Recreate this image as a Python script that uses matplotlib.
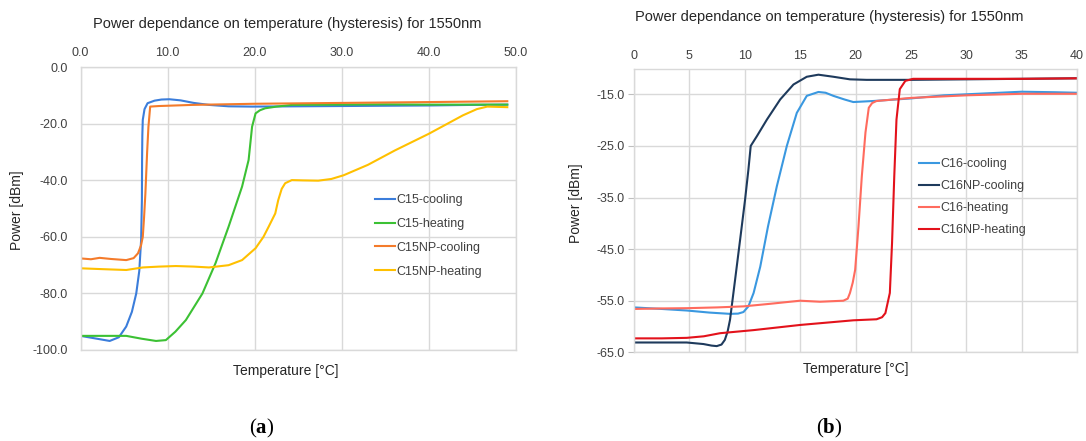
import matplotlib
matplotlib.use("Agg")
import matplotlib.pyplot as plt
from matplotlib.ticker import FixedLocator

plt.rcParams["font.family"] = ["Liberation Sans", "DejaVu Sans"]
plt.rcParams["mathtext.fontset"] = "custom"
plt.rcParams["mathtext.bf"] = "Liberation Serif:bold"
plt.rcParams["mathtext.rm"] = "Liberation Serif"

W, H = 1086, 441
TITLE = "Power dependance on temperature (hysteresis) for 1550nm"

# ---- panel (a): C15 samples, 0-50 degC ----
c15_cool_t = [0, 1.5, 3.35, 4.4, 5.25, 5.9, 6.4, 6.75, 6.96, 7.05, 7.07, 7.1, 7.15, 7.35, 7.7,
              8.5, 9.3, 10.2, 11.5, 13.0, 14.75, 17.0, 19.7, 25.0, 30.0, 35.0, 40.0, 45.0, 49.0]
c15_cool_p = [-95.0, -95.8, -96.8, -95.5, -91.7, -86.5, -80.0, -72.0, -61.0, -47.0, -32.8, -24.0,
              -18.6, -14.8, -12.7, -11.8, -11.4, -11.3, -11.7, -12.6, -13.3, -13.8, -13.9, -13.8,
              -13.7, -13.6, -13.5, -13.3, -13.2]

c15_heat_t = [0, 2.5, 5.25, 7.0, 8.67, 9.8, 10.9, 12.1, 14.0, 15.5, 17.0, 18.55, 19.3, 19.7,
              20.1, 20.6, 21.2, 22.5, 24.3, 30.0, 35.0, 40.0, 45.0, 49.0]
c15_heat_p = [-95.0, -95.0, -95.0, -96.0, -96.8, -96.5, -93.5, -89.4, -80.0, -69.3, -56.4,
              -42.2, -32.8, -21.0, -16.3, -15.2, -14.5, -13.9, -13.3, -13.2, -13.1, -13.2,
              -13.2, -13.2]

c15np_cool_t = [0, 1.2, 2.2, 3.5, 5.25, 6.1, 6.6, 6.95, 7.15, 7.3, 7.45, 7.65, 7.8, 8.0, 9.0,
                12.85, 20.0, 30.0, 40.0, 49.0]
c15np_cool_p = [-67.6, -67.9, -67.4, -67.8, -68.2, -67.5, -65.8, -63.0, -60.0, -53.0, -44.6,
                -30.0, -21.0, -13.9, -13.7, -13.3, -12.9, -12.6, -12.3, -12.0]

c15np_heat_t = [0, 2.5, 5.25, 7.15, 9.0, 10.95, 13.0, 14.75, 17.0, 18.55, 20.1, 21.0, 21.6,
                22.36, 22.7, 23.1, 23.5, 24.26, 25.5, 27.3, 28.8, 30.2, 33.0, 36.1, 40.0, 43.9,
                45.5, 46.7, 49.0]
c15np_heat_p = [-71.1, -71.4, -71.7, -70.8, -70.5, -70.3, -70.5, -70.8, -70.0, -68.2, -64.0,
                -60.0, -56.4, -51.7, -47.0, -43.0, -41.0, -39.9, -40.0, -40.1, -39.5, -38.2,
                -34.5, -29.4, -23.5, -17.0, -14.8, -13.9, -14.1]

# ---- panel (b): C16 samples, 0-40 degC ----
c16_cool_t = [0, 2.5, 4.76, 6.8, 8.67, 9.4, 9.88, 10.33, 10.8, 11.4, 12.1, 12.9, 13.8, 14.7,
              15.6, 16.65, 17.3, 18.0, 19.0, 19.8, 21.6, 25.0, 28.0, 32.0, 35.0, 38.0, 40.0]
c16_cool_p = [-56.3, -56.6, -56.9, -57.3, -57.55, -57.5, -57.2, -56.1, -53.5, -48.4, -40.6,
              -32.8, -25.0, -18.6, -15.3, -14.55, -14.7, -15.3, -16.0, -16.5, -16.3, -15.8,
              -15.2, -14.8, -14.5, -14.6, -14.7]

c16np_cool_t = [0, 2.5, 4.76, 6.27, 7.0, 7.47, 7.9, 8.2, 8.45, 8.67, 9.13, 9.58, 10.03, 10.33,
                10.54, 11.1, 12.0, 13.2, 14.4, 15.6, 16.65, 18.0, 19.5, 21.0, 25.0, 30.0, 35.0,
                40.0]
c16np_cool_p = [-63.1, -63.1, -63.1, -63.4, -63.7, -63.8, -63.5, -62.6, -61.0, -58.7, -50.9,
                -43.2, -35.4, -29.6, -25.0, -23.1, -19.9, -16.0, -13.1, -11.6, -11.2, -11.6,
                -12.1, -12.2, -12.2, -12.1, -12.0, -11.9]

c16_heat_t = [0, 2.5, 4.76, 7.5, 9.88, 12.3, 15.0, 16.8, 18.9, 19.3, 19.5, 19.75, 19.97,
              20.27, 20.57, 20.9, 21.2, 21.5, 21.9, 25.0, 30.0, 35.0, 40.0]
c16_heat_p = [-56.6, -56.5, -56.45, -56.3, -56.1, -55.6, -55.0, -55.2, -55.0, -54.6, -53.5,
              -51.5, -49.0, -40.6, -30.9, -22.4, -17.6, -16.7, -16.3, -15.7, -15.2, -14.9,
              -14.9]

c16np_heat_t = [0, 2.5, 4.76, 6.3, 7.77, 10.8, 15.0, 19.8, 21.9, 22.4, 22.7, 23.1, 23.3, 23.5,
                23.7, 24.0, 24.5, 25.2, 30.0, 35.0, 40.0]
c16np_heat_p = [-62.3, -62.3, -62.2, -61.9, -61.3, -60.7, -59.7, -58.8, -58.6, -58.2, -57.4,
                -53.5, -43.8, -30.9, -19.9, -14.0, -12.4, -12.0, -12.0, -12.0, -11.9]

left_series = [
    ("C15-cooling", c15_cool_t, c15_cool_p, "#3B7DDB"),
    ("C15-heating", c15_heat_t, c15_heat_p, "#3CC134"),
    ("C15NP-cooling", c15np_cool_t, c15np_cool_p, "#F47B2B"),
    ("C15NP-heating", c15np_heat_t, c15np_heat_p, "#FFC000"),
]
right_series = [
    ("C16-cooling", c16_cool_t, c16_cool_p, "#3A98E0"),
    ("C16NP-cooling", c16np_cool_t, c16np_cool_p, "#1E3A5C"),
    ("C16-heating", c16_heat_t, c16_heat_p, "#FF6B5E"),
    ("C16NP-heating", c16np_heat_t, c16np_heat_p, "#E3121B"),
]

left_xticks = [0, 10, 20, 30, 40, 50]
left_yticks = [0, -20, -40, -60, -80, -100]
right_xticks = [0, 5, 10, 15, 20, 25, 30, 35, 40]
right_yticks = [-15, -25, -35, -45, -55, -65]

GRID = "#D9D9D9"
TICK_COLOR = "#404040"


def box(x0, y0, x1, y1):
    """Pixel box -> figure fraction rect."""
    return [x0 / W, 1 - y1 / H, (x1 - x0) / W, (y1 - y0) / H]


def fx(x):
    return x / W


def fy(y):
    return 1 - y / H


def style(ax, xlim, ylim, xticks, yticks, xfmt, yfmt, ytick_len, xpad, ypad):
    ax.set_xlim(*xlim)
    ax.set_ylim(*ylim)
    ax.xaxis.set_major_locator(FixedLocator(xticks))
    ax.yaxis.set_major_locator(FixedLocator(yticks))
    ax.set_xticklabels([xfmt.format(v) for v in xticks])
    ax.set_yticklabels([yfmt.format(v) for v in yticks])
    ax.xaxis.tick_top()
    ax.tick_params(axis="x", length=0, pad=xpad, labelsize=9, labelcolor=TICK_COLOR)
    ax.tick_params(axis="y", length=ytick_len, width=0.8, color="#BFBFBF", pad=ypad,
                   labelsize=9, labelcolor=TICK_COLOR)
    ax.grid(True, color=GRID, linewidth=1.0)
    ax.set_axisbelow(True)
    for sp in ax.spines.values():
        sp.set_color(GRID)
        sp.set_linewidth(1.0)


fig = plt.figure(figsize=(W / 100, H / 100), dpi=100)
fig.patch.set_facecolor("white")

ax1 = fig.add_axes(box(80.5, 67.3, 516, 350))
for name, t, p, c in left_series:
    ax1.plot(t, p, color=c, lw=1.5, label=name, solid_joinstyle="round")
style(ax1, (0, 50), (-100, 0), left_xticks, left_yticks, "{:.1f}", "{:.1f}", 0, 6, 9)
ax1.legend(loc="upper left", bbox_to_anchor=((375 - 80.5) / 435.5, 1 - (194 - 67.3) / 282.7),
           frameon=False, fontsize=9, handlelength=1.6, handletextpad=0.1,
           labelspacing=0.95, borderpad=0, borderaxespad=0, labelcolor="#404040")

ax2 = fig.add_axes(box(634, 68.5, 1077, 352.3))
for name, t, p, c in right_series:
    ax2.plot(t, p, color=c, lw=1.5, label=name, solid_joinstyle="round")
style(ax2, (0, 40), (-65, -10), right_xticks, right_yticks, "{:d}", "{:.1f}", 4, 5, 3)
ax2.legend(loc="upper left", bbox_to_anchor=((919 - 634) / 443, 1 - (158 - 68.5) / 283.8),
           frameon=False, fontsize=9, handlelength=1.6, handletextpad=0.1,
           labelspacing=0.8, borderpad=0, borderaxespad=0, labelcolor="#404040")

# titles, axis titles and panel tags
fig.text(fx(287), fy(24), TITLE, ha="center", va="center", fontsize=10.5, color="#262626")
fig.text(fx(829), fy(17), TITLE, ha="center", va="center", fontsize=10.5, color="#262626")
fig.text(fx(17), fy(210), "Power [dBm]", rotation=90, ha="center", va="center",
         fontsize=10, color="#262626")
fig.text(fx(576), fy(203), "Power [dBm]", rotation=90, ha="center", va="center",
         fontsize=10, color="#262626")
fig.text(fx(286), fy(371), "Temperature [°C]", ha="center", va="center", fontsize=10,
         color="#262626")
fig.text(fx(856), fy(369), "Temperature [°C]", ha="center", va="center", fontsize=10,
         color="#262626")
fig.text(fx(262), fy(428), r"$\mathrm{(}\mathbf{a}\mathrm{)}$", ha="center", va="center",
         fontsize=15)
fig.text(fx(829), fy(428), r"$\mathrm{(}\mathbf{b}\mathrm{)}$", ha="center", va="center",
         fontsize=15)

fig.savefig("out.png", dpi=100, facecolor="white")
